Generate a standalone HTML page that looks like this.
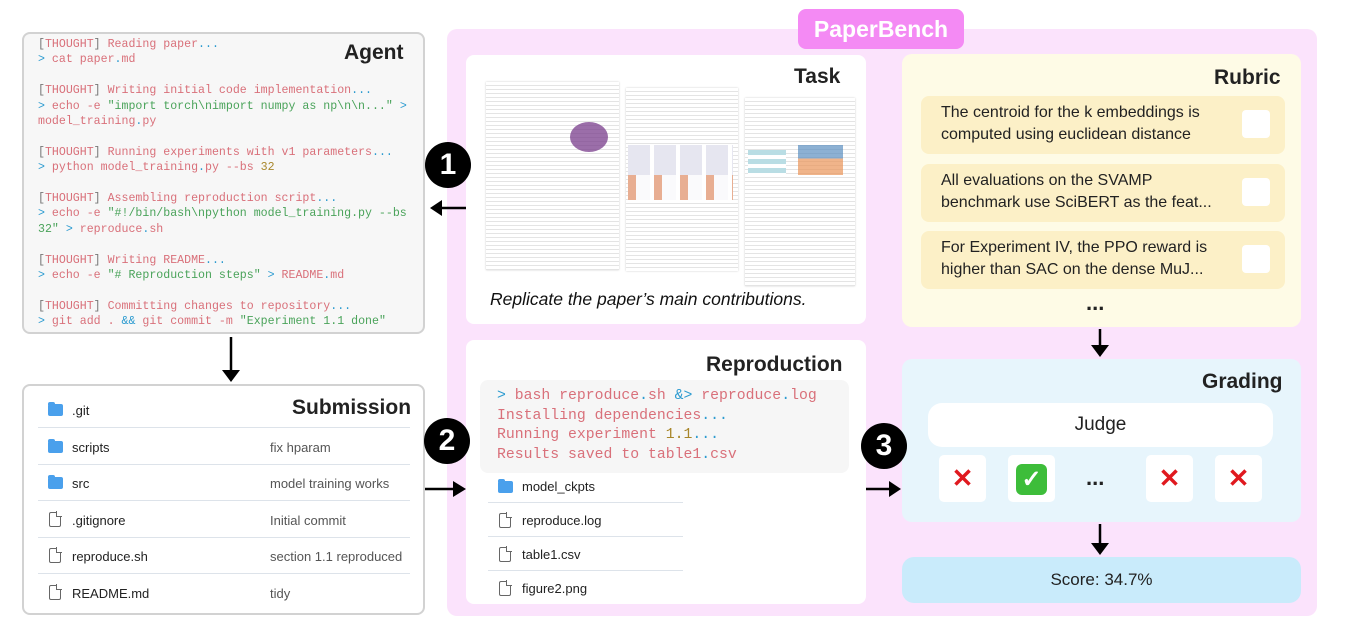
<!DOCTYPE html>
<html><head><meta charset="utf-8">
<style>
*{box-sizing:border-box;margin:0;padding:0}
body{width:1370px;height:634px;background:#fff;position:relative;overflow:hidden;font-family:"Liberation Sans",sans-serif;color:#222}
.abs{position:absolute}
.mono{font-family:"Liberation Mono","DejaVu Sans Mono",monospace}
.r{color:#d9707a}.b{color:#2c9bd0}.g{color:#4aa35a}.y{color:#a8862a}.gr{color:#777}
.title{position:absolute;font-weight:bold;font-size:21px;color:#222}
.row{position:absolute;left:38px;width:372px;height:36px;border-bottom:1px solid #dde3ea;font-size:13px}
.row .n{position:absolute;left:34px;top:11px}
.row .m{position:absolute;left:232px;top:11px;color:#555}
.fold{position:absolute;left:10px;top:12px;width:15px;height:12px;background:#4aa0ec;border-radius:2px}
.fold:before{content:"";position:absolute;left:0;top:-2px;width:7px;height:3px;background:#4aa0ec;border-radius:2px 2px 0 0}
.file{position:absolute;left:11px;top:10px;width:12px;height:15px;border:1.5px solid #666;border-radius:2px}
.file:after{content:"";position:absolute;right:-2px;top:-2px;width:5px;height:5px;background:#fff;border-left:1.5px solid #666;border-bottom:1.5px solid #666}
.circ{position:absolute;width:46px;height:46px;border-radius:50%;background:#000;color:#fff;font-weight:bold;font-size:30px;text-align:center;line-height:46px}
.item{position:absolute;left:921px;width:364px;height:58px;background:#fcf0c7;border-radius:8px;font-size:16px;line-height:22px;padding:6px 0 0 20px;color:#222}
.item .cb{position:absolute;left:321px;top:14px;width:28px;height:28px;background:#fff;border-radius:4px}
.ib{position:absolute;top:455px;width:47px;height:47px;background:#fff;border-radius:5px;text-align:center;line-height:47px;font-size:26px;font-weight:bold}
.page{position:absolute;background:#fff;box-shadow:0 0 2px rgba(0,0,0,.2);background-image:repeating-linear-gradient(#fff 0 3px,#e4e4e4 3px 4px)}
</style></head><body>

<!-- Agent -->
<div class="abs" style="left:22px;top:32px;width:403px;height:302px;background:#f7f7f7;border:2px solid #d2d2d2;border-radius:8px"></div>
<div class="title" style="left:344px;top:41px">Agent</div>
<div class="abs mono" style="left:38px;top:37px;font-size:11.6px;line-height:15.4px;white-space:pre"><span class="gr">[</span><span class="r">THOUGHT</span><span class="gr">]</span><span class="r"> Reading paper</span><span class="b">...</span>
<span class="b">&gt;</span><span class="r"> cat paper</span><span class="b">.</span><span class="r">md</span>

<span class="gr">[</span><span class="r">THOUGHT</span><span class="gr">]</span><span class="r"> Writing initial code implementation</span><span class="b">...</span>
<span class="b">&gt;</span><span class="r"> echo -e </span><span class="g">"import torch\nimport numpy as np\n\n..."</span><span class="b"> &gt;</span>
<span class="r">model_training</span><span class="b">.</span><span class="r">py</span>

<span class="gr">[</span><span class="r">THOUGHT</span><span class="gr">]</span><span class="r"> Running experiments with v1 parameters</span><span class="b">...</span>
<span class="b">&gt;</span><span class="r"> python model_training</span><span class="b">.</span><span class="r">py --bs </span><span class="y">32</span>

<span class="gr">[</span><span class="r">THOUGHT</span><span class="gr">]</span><span class="r"> Assembling reproduction script</span><span class="b">...</span>
<span class="b">&gt;</span><span class="r"> echo -e </span><span class="g">"#!/bin/bash\npython model_training.py --bs</span>
<span class="g">32"</span><span class="b"> &gt;</span><span class="r"> reproduce</span><span class="b">.</span><span class="r">sh</span>

<span class="gr">[</span><span class="r">THOUGHT</span><span class="gr">]</span><span class="r"> Writing README</span><span class="b">...</span>
<span class="b">&gt;</span><span class="r"> echo -e </span><span class="g">"# Reproduction steps"</span><span class="b"> &gt;</span><span class="r"> README</span><span class="b">.</span><span class="r">md</span>

<span class="gr">[</span><span class="r">THOUGHT</span><span class="gr">]</span><span class="r"> Committing changes to repository</span><span class="b">...</span>
<span class="b">&gt;</span><span class="r"> git add . </span><span class="b">&amp;&amp;</span><span class="r"> git commit -m </span><span class="g">"Experiment 1.1 done"</span></div>

<!-- Submission -->
<div class="abs" style="left:22px;top:384px;width:403px;height:231px;background:#fff;border:2px solid #d2d2d2;border-radius:8px"></div>
<div class="title" style="left:292px;top:396px">Submission</div>
<div class="row" style="top:392px"><div class="fold"></div><div class="n">.git</div></div>
<div class="row" style="top:429px"><div class="fold"></div><div class="n">scripts</div><div class="m">fix hparam</div></div>
<div class="row" style="top:465px"><div class="fold"></div><div class="n">src</div><div class="m">model training works</div></div>
<div class="row" style="top:502px"><div class="file"></div><div class="n">.gitignore</div><div class="m">Initial commit</div></div>
<div class="row" style="top:538px"><div class="file"></div><div class="n">reproduce.sh</div><div class="m">section 1.1 reproduced</div></div>
<div class="row" style="top:575px;border:none"><div class="file"></div><div class="n">README.md</div><div class="m">tidy</div></div>

<!-- PaperBench container -->
<div class="abs" style="left:447px;top:29px;width:870px;height:587px;background:#fbe3fc;border-radius:10px"></div>
<div class="abs" style="left:798px;top:9px;width:166px;height:40px;background:#f48af4;border-radius:8px;color:#fff;font-weight:bold;font-size:23px;text-align:center;line-height:40px">PaperBench</div>

<!-- Task -->
<div class="abs" style="left:466px;top:55px;width:400px;height:269px;background:#fff;border-radius:8px"></div>
<div class="page" style="left:486px;top:82px;width:133px;height:188px"></div>
<div class="abs" style="left:570px;top:122px;width:38px;height:30px;border-radius:50%;background:#7a3e8c;opacity:.75"></div>
<div class="page" style="left:626px;top:88px;width:112px;height:183px"></div>
<div class="abs" style="left:628px;top:145px;width:105px;height:55px;background:repeating-linear-gradient(90deg,#e6e6f0 0 22px,#fff 22px 26px)"></div>
<div class="abs" style="left:628px;top:175px;width:105px;height:25px;background:repeating-linear-gradient(90deg,#e8a07a 0 8px,#fff 8px 26px);opacity:.8"></div>
<div class="page" style="left:745px;top:98px;width:110px;height:188px"></div>
<div class="abs" style="left:798px;top:145px;width:45px;height:30px;background:linear-gradient(#5a8fc0 0 45%,#e99458 45%);opacity:.7"></div>
<div class="abs" style="left:748px;top:150px;width:38px;height:25px;background:repeating-linear-gradient(#b9dde4 0 5px,#fff 5px 9px)"></div>
<div class="title" style="left:794px;top:65px">Task</div>
<div class="abs" style="left:490px;top:289px;font-size:17.5px;font-style:italic;color:#111">Replicate the paper’s main contributions.</div>

<!-- Reproduction -->
<div class="abs" style="left:466px;top:340px;width:400px;height:264px;background:#fff;border-radius:8px"></div>
<div class="title" style="left:706px;top:353px">Reproduction</div>
<div class="abs" style="left:480px;top:380px;width:369px;height:93px;background:#f6f6f6;border-radius:8px"></div>
<div class="abs mono" style="left:497px;top:387px;font-size:14.8px;line-height:19.6px;white-space:pre"><span class="b">&gt;</span><span class="r"> bash reproduce</span><span class="b">.</span><span class="r">sh </span><span class="b">&amp;&gt;</span><span class="r"> reproduce</span><span class="b">.</span><span class="r">log</span>
<span class="r">Installing dependencies</span><span class="b">...</span>
<span class="r">Running experiment </span><span class="y">1.1</span><span class="b">...</span>
<span class="r">Results saved to table1</span><span class="b">.</span><span class="r">csv</span></div>
<div class="row" style="left:488px;width:195px;top:469px;height:34px"><div class="fold"></div><div class="n" style="top:10px">model_ckpts</div></div>
<div class="row" style="left:488px;width:195px;top:503px;height:34px"><div class="file"></div><div class="n" style="top:10px">reproduce.log</div></div>
<div class="row" style="left:488px;width:195px;top:537px;height:34px"><div class="file"></div><div class="n" style="top:10px">table1.csv</div></div>
<div class="row" style="left:488px;width:195px;top:571px;height:34px;border:none"><div class="file"></div><div class="n" style="top:10px">figure2.png</div></div>

<!-- Rubric -->
<div class="abs" style="left:902px;top:54px;width:399px;height:273px;background:#fefbe6;border-radius:10px"></div>
<div class="title" style="left:1214px;top:66px">Rubric</div>
<div class="item" style="top:96px">The centroid for the k embeddings is<br>computed using euclidean distance<div class="cb"></div></div>
<div class="item" style="top:164px">All evaluations on the SVAMP<br>benchmark use SciBERT as the feat...<div class="cb"></div></div>
<div class="item" style="top:231px">For Experiment IV, the PPO reward is<br>higher than SAC on the dense MuJ...<div class="cb"></div></div>
<div class="abs" style="left:1086px;top:290px;font-size:22px;font-weight:bold">...</div>

<!-- Grading -->
<div class="abs" style="left:902px;top:359px;width:399px;height:163px;background:#e7f5fc;border-radius:10px"></div>
<div class="title" style="left:1202px;top:370px">Grading</div>
<div class="abs" style="left:928px;top:403px;width:345px;height:44px;background:#fff;border-radius:14px;text-align:center;line-height:44px;font-size:19px">Judge</div>
<div class="ib" style="left:939px;color:#e0191f">✕</div>
<div class="ib" style="left:1008px"><span style="display:inline-block;width:31px;height:31px;margin-top:8px;background:#3dbd3a;border-radius:6px;color:#fff;font-size:24px;line-height:31px">✓</span></div>
<div class="abs" style="left:1086px;top:465px;font-size:22px;font-weight:bold">...</div>
<div class="ib" style="left:1146px;color:#e0191f">✕</div>
<div class="ib" style="left:1215px;color:#e0191f">✕</div>

<!-- Score -->
<div class="abs" style="left:902px;top:557px;width:399px;height:46px;background:#c9ebfb;border-radius:12px;text-align:center;line-height:46px;font-size:17px">Score: 34.7%</div>

<!-- arrows -->
<svg class="abs" style="left:0;top:0" width="1370" height="634">
<g stroke="#000" stroke-width="2.5" fill="#000">
<line x1="231" y1="337" x2="231" y2="372"/><path d="M222,370 L240,370 L231,382 z" stroke="none"/>
<line x1="466" y1="208" x2="440" y2="208"/><path d="M442,200 L442,216 L430,208 z" stroke="none"/>
<line x1="425" y1="489" x2="455" y2="489"/><path d="M453,481 L453,497 L466,489 z" stroke="none"/>
<line x1="866" y1="489" x2="890" y2="489"/><path d="M889,481 L889,497 L901,489 z" stroke="none"/>
<line x1="1100" y1="329" x2="1100" y2="347"/><path d="M1091,345 L1109,345 L1100,357 z" stroke="none"/>
<line x1="1100" y1="524" x2="1100" y2="545"/><path d="M1091,543 L1109,543 L1100,555 z" stroke="none"/>
</g></svg>

<!-- numbered circles -->
<div class="circ" style="left:425px;top:142px">1</div>
<div class="circ" style="left:424px;top:418px">2</div>
<div class="circ" style="left:861px;top:423px">3</div>
</body></html>
